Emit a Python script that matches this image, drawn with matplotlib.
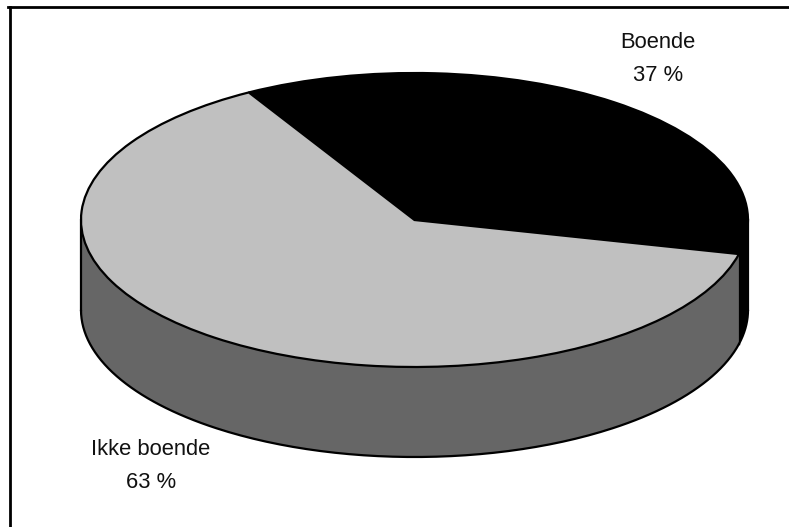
import numpy as np
import matplotlib
matplotlib.use("Agg")
import matplotlib.pyplot as plt
from matplotlib.lines import Line2D

labels = ["Boende", "Ikke boende"]
values = [37, 63]
colors = ["#000000", "#c0c0c0"]
side_colors = ["#000000", "#666666"]
label_pos = [(658, 59), (151, 466)]

# ellipse of the top face, in pixels
W, H = 789, 527
cx, cy = 414.5, 220
rx, ry = 333.5, 147
depth = 90 / ry
start_angle = -13.4

plt.rcParams["font.family"] = ["Liberation Sans", "DejaVu Sans"]
fig = plt.figure(figsize=(W / 100, H / 100), dpi=100, facecolor="white")
ax = fig.add_axes([0, 0, 1, 1])


# side wall between two angles of the ellipse (degrees)
def draw_side(a0, a1, color):
	t = np.radians(np.linspace(a0, a1, 200))
	x, y = np.cos(t), np.sin(t)
	ax.fill(np.r_[x, x[::-1]], np.r_[y, y[::-1] - depth], fc=color, ec="none", zorder=1)
	ax.plot(x, y - depth, color="black", lw=1.6, zorder=2, solid_capstyle="round")


# boende wall only shows from the right edge to the slice start
draw_side(start_angle, 0, side_colors[0])
draw_side(180, 360 + start_angle, side_colors[1])
edge = np.cos(np.radians(start_angle))
ax.plot([edge, edge], [np.sin(np.radians(start_angle)), np.sin(np.radians(start_angle)) - depth], color="black", lw=1, zorder=2)
ax.plot([-1, -1], [0, -depth], color="black", lw=1.6, zorder=2)
ax.plot([1, 1], [0, -depth], color="black", lw=1.6, zorder=2)

wedges, _ = ax.pie(values, colors=colors, startangle=start_angle, counterclock=True,
	wedgeprops={"edgecolor": "black", "linewidth": 1.6, "zorder": 3}, normalize=True)

ax.set_aspect("auto")
ax.set_xlim((0 - cx) / rx, (W - cx) / rx)
ax.set_ylim((cy - H) / ry, cy / ry)
ax.axis("off")

for name, val, pos in zip(labels, values, label_pos):
	fig.text(pos[0] / W, 1 - pos[1] / H, f"{name}\n{val} %", ha="center", va="center",
		fontsize=15.8, linespacing=1.8, color="#111111")

# chart frame, only top and left are inside the crop
fig.add_artist(Line2D([9.5 / W, 9.5 / W], [0, 1 - 7 / H], color="black", lw=2, transform=fig.transFigure))
fig.add_artist(Line2D([8 / W, 1], [1 - 7 / H, 1 - 7 / H], color="black", lw=2, transform=fig.transFigure))

fig.savefig("out.png", dpi=100)
